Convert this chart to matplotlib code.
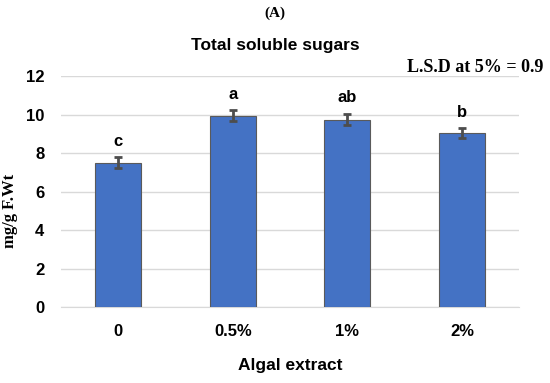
import matplotlib.pyplot as plt

categories = ['0', '0.5%', '1%', '2%']
values = [7.5, 9.95, 9.75, 9.05]
errors = [0.28, 0.28, 0.28, 0.25]
letters = ['c', 'a', 'ab', 'b']

plt.rcParams['font.family'] = ['Liberation Sans', 'DejaVu Sans']

fig = plt.figure(figsize=(5.5, 3.83), dpi=100)
ax = fig.add_axes([0.111, 0.198, 0.833, 0.603])

x = range(len(categories))
ax.bar(x, values, width=0.4, color='#4472C4', edgecolor='#5a5a5a', linewidth=0.8, zorder=3)
ax.errorbar(x, values, yerr=errors, fmt='none', ecolor='#4d4d4d', elinewidth=2,
            capsize=3, capthick=2, zorder=4)
for i, (v, e, l) in enumerate(zip(values, errors, letters)):
    ax.text(i, v + e + 0.45, l, ha='center', va='bottom', fontsize=12, fontweight='bold')

ax.set_ylim(0, 12)
ax.set_xlim(-0.5, len(categories) - 0.5)
ax.set_yticks(range(0, 13, 2))
ax.set_xticks(list(x))
ax.set_xticklabels(categories)
ax.tick_params(axis='both', length=0, labelsize=12, pad=12)
for lab in ax.get_xticklabels() + ax.get_yticklabels():
    lab.set_fontweight('bold')
ax.grid(axis='y', color='#d9d9d9', linewidth=1, zorder=0)
for s in ['top', 'right', 'left']:
    ax.spines[s].set_visible(False)
ax.spines['bottom'].set_color('#d9d9d9')

ax.set_xlabel('Algal extract', fontsize=12.5, fontweight='bold', labelpad=14)
ax.set_ylabel('mg/g F.Wt', fontsize=12, fontweight='bold', family='Liberation Serif')
ax.yaxis.set_label_coords(-0.094, 0.415)

fig.text(0.5, 0.966, '(A)', ha='center', va='center', fontsize=11, fontweight='bold',
         family='Liberation Serif')
fig.text(0.5, 0.882, 'Total soluble sugars', ha='center', va='center', fontsize=12.5, fontweight='bold')
fig.text(0.988, 0.825, 'L.S.D at 5% = 0.9', ha='right', va='center', fontsize=13,
         fontweight='bold', family='Liberation Serif')

fig.savefig('out.png', dpi=100)
